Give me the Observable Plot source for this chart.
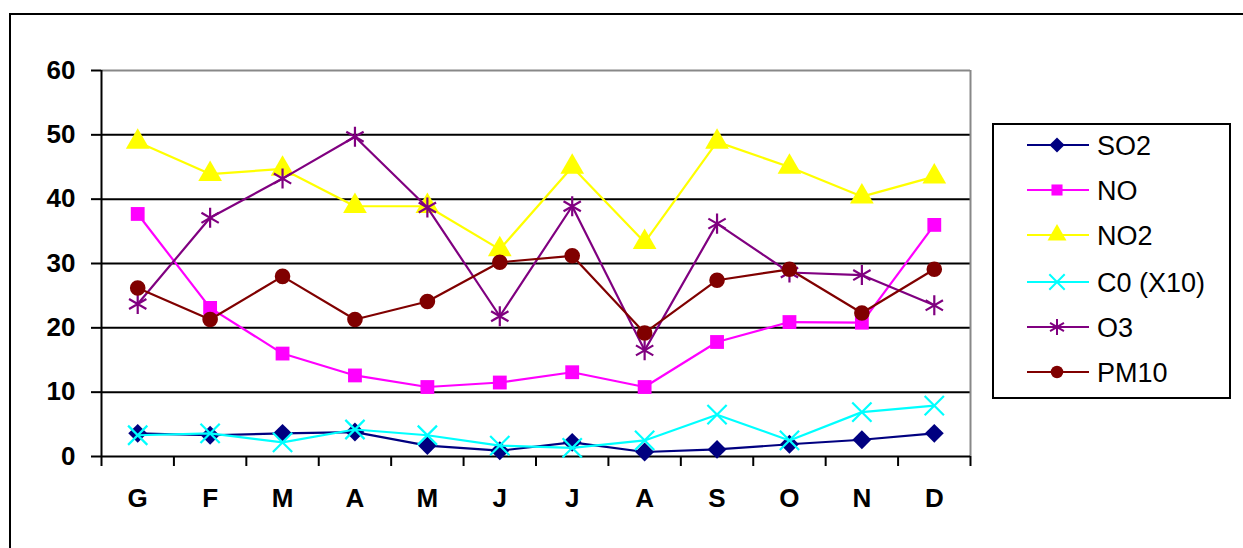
<!DOCTYPE html>
<html>
<head>
<meta charset="utf-8">
<script src="https://cdn.jsdelivr.net/npm/d3@7"></script>
<script src="https://cdn.jsdelivr.net/npm/@observablehq/plot@0.6"></script>
<style>
  html, body { margin: 0; padding: 0; background: #fff; overflow: hidden; }
  #wrap { position: relative; width: 1243px; height: 548px; overflow: hidden; font-family: "Liberation Sans", Arial, sans-serif; }
  #frame { position: absolute; left: 9px; top: 13px; width: 1400px; height: 700px; border: 2px solid #000; box-sizing: border-box; }
  #chart { position: absolute; left: 0; top: 0; }
  #legend { position: absolute; left: 992px; top: 123px; }
</style>
</head>
<body>
<div id="wrap">
  <div id="frame"></div>
  <div id="chart"></div>
  <div id="legend"></div>
</div>
<script>
// ---- data ----
const months = ["G", "F", "M", "A", "M", "J", "J", "A", "S", "O", "N", "D"];
const seriesNames = ["SO2", "NO", "NO2", "C0 (X10)", "O3", "PM10"];
const so2  = [3.6, 3.3, 3.6, 3.8, 1.7, 0.9, 2.2, 0.7, 1.1, 1.9, 2.6, 3.6];
const no   = [37.7, 23.1, 16.0, 12.6, 10.8, 11.5, 13.1, 10.8, 17.8, 20.9, 20.8, 36.0];
const no2  = [48.9, 43.9, 44.7, 38.9, 38.9, 32.2, 45.0, 33.3, 48.9, 45.0, 40.4, 43.5];
const co10 = [3.3, 3.6, 2.2, 4.2, 3.3, 1.7, 1.35, 2.5, 6.5, 2.5, 6.9, 7.9];
const o3   = [23.7, 37.1, 43.2, 49.7, 38.7, 21.8, 38.9, 16.5, 36.2, 28.6, 28.2, 23.5];
const pm10 = [26.2, 21.3, 28.0, 21.3, 24.1, 30.2, 31.2, 19.2, 27.4, 29.1, 22.3, 29.1];
const yTicks = [0, 10, 20, 30, 40, 50, 60];

// ---- styles ----
const styles = [
  {color: "#000080", symbol: "diamond2", filled: true,  r: 8.5},
  {color: "#FF00FF", symbol: "square",   filled: true,  r: 7.8},
  {color: "#FFFF00", symbol: "triangle", filled: true,  r: 8.8},
  {color: "#00FFFF", symbol: "times",    filled: false, r: 8.8},
  {color: "#800080", symbol: "asterisk", filled: false, r: 9.5},
  {color: "#800000", symbol: "circle",   filled: true,  r: 7.8}
];
const valuesList = [so2, no, no2, co10, o3, pm10];
const series = seriesNames.map((name, k) => ({
  name, ...styles[k],
  data: valuesList[k].map((v, i) => ({x: i + 0.5, y: v}))
}));

const seriesMarks = series.flatMap(s => [
  Plot.line(s.data, {x: "x", y: "y", stroke: s.color, strokeWidth: 2.2}),
  Plot.dot(s.data, s.filled
    ? {x: "x", y: "y", symbol: () => s.symbol, fill: s.color, stroke: "none", r: s.r}
    : {x: "x", y: "y", symbol: () => s.symbol, fill: "none", stroke: s.color, strokeWidth: 2.2, r: s.r})
]);

const chart = Plot.plot({
  width: 1243,
  height: 548,
  marginLeft: 101,
  marginRight: 273,
  marginTop: 70,
  marginBottom: 92,
  style: {fontFamily: "'Liberation Sans', Arial, sans-serif", background: "transparent", color: "#000"},
  x: {type: "linear", domain: [0, 12]},
  y: {domain: [0, 60]},
  symbol: {type: "identity"},
  marks: [
    Plot.ruleY([10, 20, 30, 40, 50], {stroke: "#000", strokeWidth: 2}),
    Plot.ruleY([60], {stroke: "#888", strokeWidth: 2}),
    Plot.ruleX([12], {stroke: "#888", strokeWidth: 2}),
    Plot.axisY({ticks: yTicks, tickSize: 10, tickPadding: 16, fontSize: 26, fontWeight: "bold",
                label: null, strokeWidth: 2, tickFormat: d => String(d)}),
    Plot.axisX({ticks: d3.range(13), tickSize: 10, tickFormat: () => "", label: null, strokeWidth: 2}),
    Plot.axisX({ticks: d3.range(12).map(i => i + 0.5), tickSize: 0, tickPadding: 32,
                tickFormat: d => months[Math.floor(d)], fontSize: 26, fontWeight: "bold", label: null}),
    Plot.ruleX([0], {stroke: "#000", strokeWidth: 2}),
    Plot.ruleY([0], {stroke: "#000", strokeWidth: 2}),
    ...seriesMarks
  ]
});
document.getElementById("chart").appendChild(chart);

// ---- legend ----
const lw = 239, lh = 276;
const lsvg = d3.select("#legend").append("svg").attr("width", lw).attr("height", lh);
lsvg.append("rect").attr("x", 1).attr("y", 1).attr("width", lw - 2).attr("height", lh - 2)
  .attr("fill", "#fff").attr("stroke", "#000").attr("stroke-width", 2);
const symMap = {diamond2: d3.symbolDiamond2, square: d3.symbolSquare, triangle: d3.symbolTriangle,
                times: d3.symbolTimes, asterisk: d3.symbolAsterisk, circle: d3.symbolCircle};
const rowY = [22, 67, 112, 159, 204, 249];
series.forEach((s, k) => {
  const g = lsvg.append("g").attr("transform", `translate(0,${rowY[k]})`);
  g.append("line").attr("x1", 35).attr("x2", 97).attr("y1", 0).attr("y2", 0)
    .attr("stroke", s.color).attr("stroke-width", 2);
  const r = s.r * 0.8;
  const p = g.append("path").attr("transform", "translate(65,0)")
    .attr("d", d3.symbol(symMap[s.symbol], Math.PI * r * r)());
  if (s.filled) p.attr("fill", s.color);
  else p.attr("fill", "none").attr("stroke", s.color).attr("stroke-width", 2);
  g.append("text").attr("x", 105).attr("y", 0).attr("dy", "0.36em")
    .attr("font-size", 27).attr("font-family", "'Liberation Sans', Arial, sans-serif")
    .attr("fill", "#000").text(s.name);
});
</script>
</body>
</html>
